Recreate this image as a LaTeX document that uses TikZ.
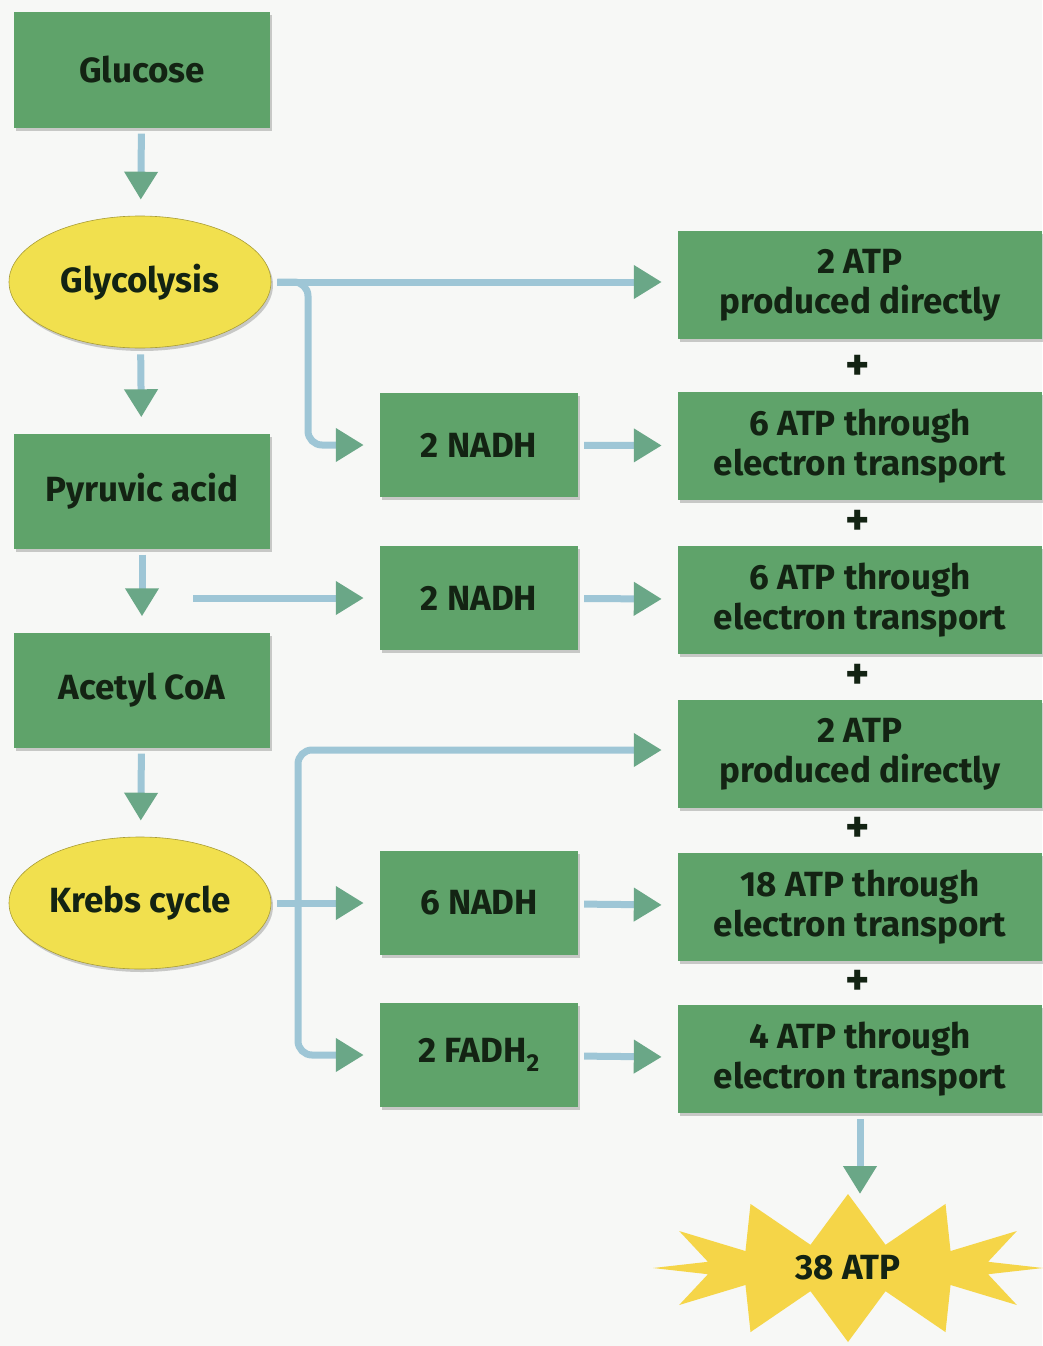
\documentclass[tikz,border=0pt]{standalone}
\usepackage{fontspec}
\setmainfont{Fira Sans}
\usetikzlibrary{arrows.meta, shapes.geometric, shapes.symbols, shadows}
\definecolor{boxgreen}{HTML}{5FA36A}
\definecolor{inkgreen}{HTML}{132313}
\definecolor{cellyellow}{HTML}{F1E04E}
\definecolor{burstyellow}{HTML}{F5D548}
\definecolor{flowblue}{HTML}{9EC6D6}
\definecolor{tipgreen}{HTML}{6AA787}
\definecolor{paper}{HTML}{F7F8F6}
\tikzset{
  every node/.append style={font=\bfseries\fontsize{35}{40}\selectfont, text=inkgreen},
  boxshadow/.style={drop shadow={shadow xshift=2pt, shadow yshift=-3pt, opacity=0.4}},
  molecule/.style={rectangle, fill=boxgreen, minimum width=256pt, minimum height=115pt, boxshadow},
  stage/.style={ellipse, fill=cellyellow, draw=cellyellow!70!black, line width=0.6pt,
    minimum width=262pt, minimum height=132pt, inner sep=0pt, boxshadow},
  carrier/.style={rectangle, fill=boxgreen, minimum width=198pt, minimum height=104pt, boxshadow},
  yield/.style={rectangle, fill=boxgreen, minimum width=364pt, minimum height=108pt,
    align=center, boxshadow},
  plussign/.style={font=\bfseries\fontsize{46}{46}\selectfont},
  burst/.style={starburst, fill=burstyellow, starburst points=12, starburst point height=50pt,
    random starburst=0, minimum width=390pt, minimum height=148pt, inner sep=0pt},
  flow/.style={-{Triangle[length=28pt, width=32pt, color=tipgreen]}, line width=7pt,
    color=flowblue, shorten <=6pt, shorten >=16pt}
}

\begin{document}
\begin{tikzpicture}[x=1pt, y=-1pt]
\fill[paper] (0,0) rectangle (1042,1346);
\useasboundingbox (0,0) rectangle (1042,1346);

% main pathway
\node[molecule] (glucose) at (142,70) {Glucose};
\node[stage] (glyc) at (140,282) {Glycolysis};
\node[molecule] (pyruvic) at (142,491) {Pyruvic acid};
\node[molecule] (acetyl) at (142,690) {Acetyl CoA};
\node[stage] (krebs) at (140,903) {Krebs cycle};

% carriers
\node[carrier] (nadh1) at (479,445) {2 NADH};
\node[carrier] (nadh2) at (479,598) {2 NADH};
\node[carrier] (nadh3) at (479,903) {6 NADH};
\node[carrier] (fadh) at (479,1055) {2 FADH\textsubscript{2}};

% ATP yield
\node[yield] (atp1) at (860,285) {2 ATP\\produced directly};
\node[yield] (atp2) at (860,446) {6 ATP through\\electron transport};
\node[yield] (atp3) at (860,600) {6 ATP through\\electron transport};
\node[yield] (atp4) at (860,754) {2 ATP\\produced directly};
\node[yield] (atp5) at (860,907) {18 ATP through\\electron transport};
\node[yield] (atp6) at (860,1059) {4 ATP through\\electron transport};
\foreach \y [count=\i] in {368,523,677,830,983}
  \node[plussign] (plus\i) at (858,\y) {+};

\node[burst] (total) at (848,1268) {38 ATP};

% arrows
\draw[flow] (glucose) -- (glyc);
\draw[flow] (glyc) -- (pyruvic);
\draw[flow] (pyruvic) -- (acetyl);
\draw[flow] (acetyl) -- (krebs);

\coordinate (gsplit) at (308,282);
\draw[flow] (glyc.east) -- (glyc.east -| atp1.west);
\draw[flow, rounded corners=14pt] (glyc.east) -- (gsplit) |- (nadh1.west);

\coordinate (pyrsplit) at (187,598);
\draw[flow] (pyrsplit) -- (nadh2.west);

\coordinate (ksplit) at (298,903);
\draw[flow] (krebs.east) -- (nadh3.west);
\draw[flow, shorten <=0pt, rounded corners=14pt] (ksplit) |- ([yshift=4pt]atp4.west);
\draw[flow, shorten <=0pt, rounded corners=14pt] (ksplit) |- (fadh.west);

\foreach \a/\b in {nadh1/atp2, nadh2/atp3, nadh3/atp5, fadh/atp6}
  \draw[flow] (\a) -- (\b);

\coordinate (bursttip) at (860,1210);
\draw[flow] (atp6) -- (bursttip);
\end{tikzpicture}
\end{document}
